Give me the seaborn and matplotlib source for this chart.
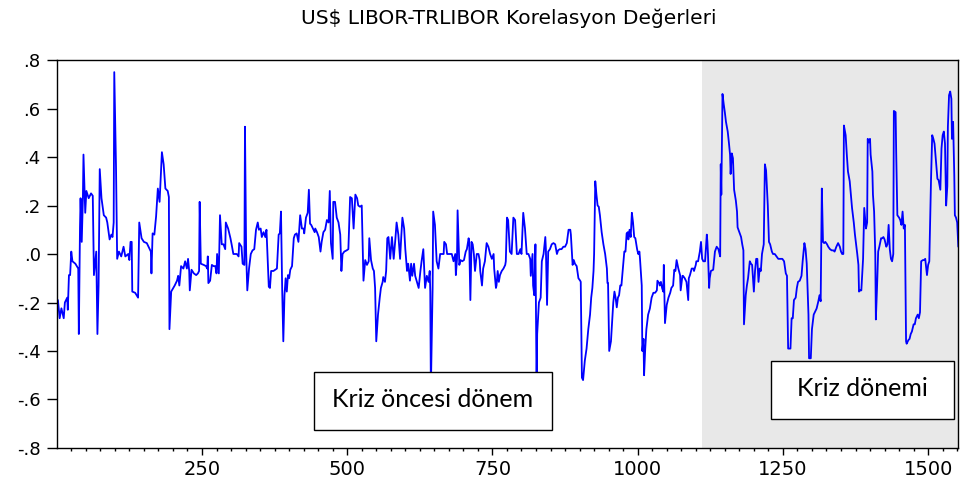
import numpy as np
import pandas as pd
import seaborn as sns
import matplotlib
matplotlib.use("Agg")
import matplotlib.pyplot as plt
from matplotlib.patches import Rectangle
from matplotlib.ticker import FixedLocator, MultipleLocator, FuncFormatter

title = "US$ LIBOR-TRLIBOR Korelasyon Değerleri"
box_labels = ["Kriz öncesi dönem", "Kriz dönemi"]
kriz_start = 1110
n_obs = 1552
x_ticks = [250, 500, 750, 1000, 1250, 1500]
y_ticks = [-0.8, -0.6, -0.4, -0.2, 0.0, 0.2, 0.4, 0.6, 0.8]

obs_a = [2, 5, 8, 12, 14, 18, 19, 21, 23, 25, 27, 32, 37, 38, 40, 41, 43, 45, 46, 49,
         51, 55, 59, 62, 64, 68, 70, 72, 74, 77, 81, 85, 87, 91, 94, 96, 98, 99, 102, 104,
         107, 111, 115, 118, 123, 125, 127, 129, 130, 135, 140, 142, 146, 150, 155, 160, 162, 163, 165, 168,
         171, 174, 177, 181, 184, 187, 191, 193, 194, 197, 203, 207, 209, 211, 214, 218]
corr_a = [-0.19, -0.265, -0.224, -0.265, -0.20, -0.18, -0.23, -0.087, -0.087, 0.01,
          -0.03, -0.04, -0.06, -0.33, 0.11, 0.23, 0.05, 0.23, 0.41, 0.17,
          0.26, 0.23, 0.25, 0.24, -0.087, 0.01, -0.33, -0.13, 0.35, 0.23,
          0.16, 0.15, 0.13, 0.06, 0.08, 0.07, 0.13, 0.75, 0.36, -0.02,
          0.01, -0.01, 0.03, -0.01, 0.0, -0.025, 0.05, 0.05, -0.155, -0.16,
          -0.18, 0.13, 0.065, 0.05, 0.045, 0.02, 0.01, -0.08, 0.085, 0.08,
          0.155, 0.27, 0.215, 0.42, 0.37, 0.27, 0.26, 0.235, -0.31, -0.155,
          -0.13, -0.11, -0.09, -0.13, -0.05, -0.06]

obs_b = [221, 224, 226, 228, 229, 232, 236, 240, 243, 245, 246, 248, 253, 257, 259, 260, 261, 264, 267, 270,
         273, 275, 276, 279, 281, 284, 287, 290, 291, 295, 299, 301, 304, 307, 310, 313, 314, 318, 320, 323,
         324, 326, 328, 331, 334, 337, 340, 343, 346, 348, 351, 353, 356, 359, 361, 365, 367, 369, 373, 376,
         379, 382, 384, 386, 388, 390, 392, 394, 396, 398, 400, 402, 405, 408, 410, 413, 416, 419, 422, 425,
         426, 429, 432, 434, 436, 438, 441, 444]
corr_b = [-0.03, -0.06, -0.02, -0.07, -0.15, -0.065, -0.08, -0.087, -0.08, -0.07,
          0.215, -0.04, -0.045, -0.05, -0.06, -0.01, -0.12, -0.11, -0.045, -0.05,
          -0.05, -0.08, 0.0, -0.08, 0.16, 0.04, 0.04, 0.02, 0.13, 0.105,
          0.065, 0.04, 0.0, 0.0, 0.0, -0.01, 0.045, 0.03, -0.04, -0.045,
          0.525, 0.01, -0.15, -0.06, 0.0, 0.015, 0.02, 0.1, 0.13, 0.1,
          0.105, 0.07, 0.09, 0.07, 0.1, -0.135, -0.14, -0.07, -0.07, -0.065,
          -0.06, 0.08, 0.085, 0.175, -0.14, -0.36, -0.17, -0.1, -0.155, -0.087,
          -0.1, -0.065, -0.05, 0.065, 0.08, 0.085, 0.05, 0.16, 0.105, 0.105,
          0.085, 0.15, 0.17, 0.265, 0.125, 0.12, 0.105, 0.09]

obs_c = [445, 448, 451, 454, 456, 459, 462, 465, 468, 470, 472, 475, 476, 479, 482, 485, 488, 490, 492, 495,
         499, 502, 505, 508, 511, 514, 517, 519, 522, 525, 528, 531, 534, 537, 538, 541, 544, 546, 548, 550,
         553, 556, 558, 561, 562, 565, 567, 569, 571, 574, 577, 580, 583, 585, 588, 591, 593, 595, 598, 600,
         603, 605, 608, 610, 612, 615, 617, 620, 623, 626, 628, 631, 634, 637, 640, 642, 643, 644, 647, 648,
         651, 654, 657, 660, 663, 666, 667, 670, 672, 677]
corr_c = [0.105, 0.09, 0.07, 0.01, 0.05, 0.09, 0.1, 0.14, 0.13, 0.26,
          0.045, -0.02, 0.215, 0.215, 0.15, 0.13, 0.08, -0.07, 0.0, 0.01,
          0.015, 0.02, 0.235, 0.23, 0.105, 0.245, 0.23, 0.2, 0.195, 0.2,
          -0.11, -0.025, -0.045, -0.03, 0.065, -0.025, -0.06, -0.07, -0.14, -0.36,
          -0.25, -0.18, -0.14, -0.115, -0.095, -0.115, -0.07, 0.065, 0.07, -0.02,
          0.07, -0.02, 0.065, 0.13, 0.08, -0.02, 0.07, 0.15, 0.105, 0.02,
          -0.07, -0.04, -0.11, -0.04, -0.09, -0.04, -0.09, -0.115, -0.14, -0.07,
          -0.03, 0.02, -0.14, -0.09, -0.115, -0.07, -0.155, -0.56, -0.14, 0.175,
          0.12, -0.03, -0.06, 0.0, 0.0, 0.0, 0.05, 0.04, 0.0, 0.0]

obs_d = [680, 683, 686, 687, 689, 690, 693, 695, 698, 701, 704, 706, 709, 710, 712, 714, 716, 718, 720, 723,
         726, 728, 729, 732, 734, 737, 740, 743, 746, 749, 752, 753, 756, 757, 759, 761, 763, 766, 769, 772,
         773, 775, 777, 780, 783, 786, 789, 792, 795, 798, 800, 803, 806, 809, 812, 815, 816, 819, 820, 822,
         824, 826, 827, 830, 833, 835, 838, 841, 842, 844, 846, 849, 852, 855, 858, 861, 863, 866, 869, 872,
         875, 878, 881, 884, 885, 888, 890, 892, 895, 898, 901]
corr_d = [0.0, -0.03, 0.0, -0.087, -0.02, 0.18, -0.045, -0.025, -0.03, -0.025,
          0.01, 0.02, 0.065, 0.05, -0.19, 0.05, 0.04, 0.0, -0.07, 0.0,
          0.0, -0.025, -0.07, -0.13, -0.06, -0.03, 0.045, 0.03, 0.0, -0.02,
          0.0, -0.06, -0.14, -0.13, -0.07, -0.115, -0.087, -0.07, -0.06, -0.045,
          -0.03, 0.15, 0.14, 0.01, 0.0, 0.15, 0.14, 0.0, 0.0, 0.02,
          0.0, 0.17, 0.105, 0.0, 0.0, -0.02, -0.09, 0.0, -0.13, -0.17,
          0.04, -0.55, -0.33, -0.2, -0.18, -0.03, 0.0, 0.07, 0.02, -0.21,
          0.01, 0.02, 0.04, 0.045, 0.04, 0.0, 0.015, 0.02, 0.02, 0.03,
          0.03, 0.045, 0.1, 0.1, 0.08, -0.045, -0.025, -0.04, -0.05, -0.1,
          -0.11]

obs_e = [902, 904, 906, 909, 912, 915, 918, 920, 922, 924, 925, 927, 929, 931, 933, 935, 938, 941, 944, 947,
         948, 949, 951, 954, 956, 958, 960, 962, 964, 966, 968, 970, 972, 975, 977, 979, 981, 983, 984, 986,
         988, 990, 992, 994, 996, 999, 1001, 1003, 1004, 1007, 1008, 1010, 1011, 1013, 1015, 1018, 1021, 1024, 1027, 1030,
         1033, 1034, 1037, 1038, 1040, 1042, 1044, 1045, 1047, 1050, 1053, 1056, 1058, 1061, 1063, 1065, 1067, 1070, 1073, 1074,
         1077, 1078, 1081, 1084, 1087, 1088, 1090, 1093, 1096, 1097, 1100, 1101, 1104, 1107, 1109, 1111, 1113, 1116, 1119, 1120,
         1121, 1123]
corr_e = [-0.115, -0.51, -0.52, -0.44, -0.39, -0.31, -0.25, -0.18, -0.14, -0.07,
          0.0, 0.3, 0.245, 0.2, 0.195, 0.16, 0.09, 0.04, 0.0, -0.06,
          -0.12, -0.12, -0.4, -0.36, -0.28, -0.2, -0.155, -0.18, -0.22, -0.18,
          -0.17, -0.13, -0.13, -0.045, 0.01, 0.01, 0.085, 0.09, 0.06, 0.1,
          0.07, 0.17, 0.13, 0.07, 0.065, 0.02, 0.0, 0.01, -0.02, -0.13,
          -0.4, -0.35, -0.5, -0.39, -0.31, -0.25, -0.225, -0.18, -0.16, -0.16,
          -0.15, -0.11, -0.12, -0.13, -0.115, -0.14, -0.155, -0.045, -0.285, -0.21,
          -0.18, -0.16, -0.14, -0.13, -0.065, -0.07, -0.025, -0.06, -0.087, -0.15,
          -0.09, -0.09, -0.1, -0.115, -0.19, -0.1, -0.087, -0.06, -0.06, -0.07,
          -0.045, -0.03, -0.03, 0.01, 0.05, -0.02, -0.03, -0.03, 0.08, 0.05,
          0.0, -0.14]

obs_f = [1124, 1126, 1130, 1133, 1136, 1139, 1142, 1143, 1144, 1146, 1148, 1150, 1152, 1155, 1157, 1159, 1160, 1162, 1164, 1166,
         1169, 1171, 1172, 1175, 1178, 1180, 1182, 1183, 1186, 1188, 1190, 1193, 1195, 1197, 1200, 1202, 1204, 1206, 1208, 1210,
         1212, 1214, 1217, 1219, 1221, 1224, 1226, 1228, 1231, 1233, 1236, 1239, 1242, 1245, 1249, 1252, 1255, 1257, 1259, 1263,
         1265, 1267, 1269, 1272, 1274, 1276, 1279, 1282, 1284, 1287, 1289, 1291, 1294, 1295, 1298, 1300, 1303, 1305, 1308, 1311,
         1313, 1315, 1317, 1319, 1321, 1323, 1326, 1328, 1331, 1334, 1337, 1339, 1342, 1345, 1348]
corr_f = [-0.1, -0.07, -0.065, 0.01, 0.03, 0.02, -0.01, 0.37, 0.245, 0.66,
          0.62, 0.585, 0.545, 0.505, 0.46, 0.41, 0.33, 0.415, 0.395, 0.265,
          0.22, 0.175, 0.11, 0.09, 0.07, 0.04, 0.015, -0.29, -0.17, -0.13,
          -0.1, -0.03, -0.04, -0.045, -0.155, -0.07, -0.02, -0.02, -0.115, -0.06,
          -0.07, 0.0, 0.04, 0.37, 0.345, 0.2, 0.05, 0.04, 0.01, 0.0,
          0.0, -0.01, -0.02, -0.02, -0.02, -0.03, -0.08, -0.09, -0.39, -0.39,
          -0.265, -0.265, -0.19, -0.18, -0.14, -0.115, -0.11, -0.09, -0.03, 0.045,
          0.02, -0.04, -0.25, -0.43, -0.43, -0.31, -0.25, -0.24, -0.225, -0.195,
          -0.17, -0.195, 0.27, 0.05, 0.045, 0.05, 0.04, 0.03, 0.02, 0.015,
          0.015, 0.01, 0.03, 0.045, 0.03]

obs_g = [1350, 1352, 1354, 1355, 1358, 1360, 1362, 1365, 1367, 1369, 1372, 1374, 1376, 1378, 1380, 1381, 1383, 1385, 1388, 1390,
         1392, 1393, 1395, 1396, 1398, 1400, 1401, 1404, 1405, 1407, 1409, 1410, 1412, 1414, 1416, 1419, 1421, 1423, 1425, 1428,
         1430, 1432, 1434, 1436, 1438, 1440, 1441, 1444, 1445, 1447, 1450, 1452, 1454, 1456, 1458, 1460, 1462, 1463, 1466, 1468,
         1470, 1472, 1475, 1477, 1479, 1482, 1484, 1486, 1488, 1491, 1493, 1495, 1498, 1500, 1502, 1505, 1507, 1509, 1511, 1514,
         1516, 1518, 1521, 1523, 1525, 1527, 1529, 1531, 1533, 1534, 1536, 1538, 1540, 1541, 1543, 1545, 1546, 1548, 1550, 1552]
corr_g = [0.01, 0.0, 0.0, 0.53, 0.49, 0.41, 0.34, 0.3, 0.245, 0.19,
          0.13, 0.08, 0.04, 0.0, -0.045, -0.155, -0.15, -0.15, -0.02, 0.19,
          0.13, 0.105, 0.13, 0.475, 0.46, 0.475, 0.41, 0.34, 0.245, 0.175,
          0.0, -0.27, -0.14, 0.01, 0.03, 0.065, 0.065, 0.07, 0.06, 0.03,
          0.04, 0.12, 0.02, -0.02, -0.03, 0.0, 0.59, 0.585, 0.42, 0.16,
          0.15, 0.14, 0.12, 0.175, 0.105, 0.12, -0.36, -0.37, -0.355, -0.35,
          -0.33, -0.32, -0.29, -0.29, -0.265, -0.25, -0.265, -0.24, -0.03, -0.025,
          -0.025, -0.02, -0.087, -0.045, -0.03, 0.31, 0.49, 0.475, 0.455, 0.37,
          0.31, 0.305, 0.265, 0.435, 0.49, 0.505, 0.455, 0.2, 0.28, 0.525,
          0.655, 0.67, 0.64, 0.475, 0.545, 0.325, 0.16, 0.15, 0.13, 0.03]

segments = [(obs_a, corr_a), (obs_b, corr_b), (obs_c, corr_c), (obs_d, corr_d),
            (obs_e, corr_e), (obs_f, corr_f), (obs_g, corr_g)]
df = pd.DataFrame({
    "obs": np.concatenate([o for o, c in segments]),
    "corr": np.concatenate([c for o, c in segments]),
})

sns.set_theme(style="ticks")
plt.rcParams['font.family'] = ['DejaVu Sans']

fig = plt.figure(figsize=(9.62, 4.84), dpi=100)
ax = fig.add_axes([0.0596, 0.0744, 0.9366, 0.8016])

ax.axvspan(kriz_start, n_obs, color="#e8e8e8", lw=0, zorder=0)
sns.lineplot(data=df, x="obs", y="corr", ax=ax, color="#0000ff", lw=1.3,
             estimator=None, sort=False, zorder=2)

ax.set_xlim(1, n_obs)
ax.set_ylim(-0.8, 0.8)
ax.set_xlabel("")
ax.set_ylabel("")
ax.xaxis.set_major_locator(FixedLocator(x_ticks))
ax.xaxis.set_minor_locator(MultipleLocator(25))
ax.yaxis.set_major_locator(FixedLocator(y_ticks))
ax.yaxis.set_major_formatter(FuncFormatter(lambda v, _: f"{v:.1f}".replace("0.", ".")))

for sp in ax.spines.values():
    sp.set_color("black")
    sp.set_linewidth(1.0)
ax.tick_params(axis="y", which="major", length=7, width=1, pad=5, labelsize=13, colors="black")
ax.tick_params(axis="x", which="major", length=5, width=1, pad=4, labelsize=14, colors="black")
ax.tick_params(axis="x", which="minor", length=2.5, width=1, colors="black")

fig.text(0.5286, 0.963, title, ha="center", va="center", fontsize=14.5, color="black")

boxes = [(0.285, 0.0464, 0.264, 0.149), (0.792, 0.0747, 0.2034, 0.1495)]
for (bx, by, bw, bh), lab in zip(boxes, box_labels):
    ax.add_patch(Rectangle((bx, by), bw, bh, transform=ax.transAxes,
                           facecolor="white", edgecolor="black", lw=1.0, zorder=5))
    ax.text(bx + bw / 2, by + bh / 2 + 0.005, lab, transform=ax.transAxes,
            ha="center", va="center", fontsize=18, family=["Lato", "DejaVu Sans"],
            color="black", zorder=6)

fig.savefig("out.png", dpi=100)
